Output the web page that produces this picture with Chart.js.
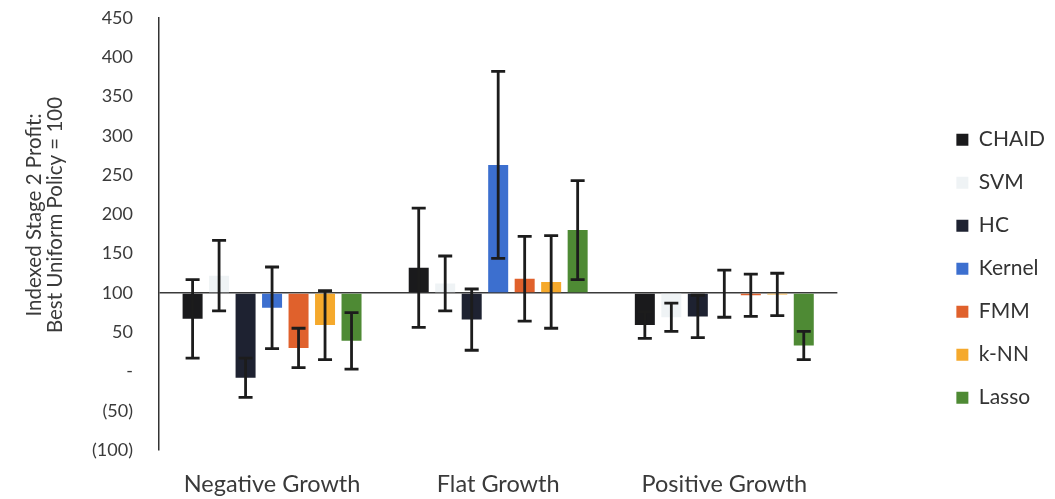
<!DOCTYPE html>
<html>
<head>
<meta charset="utf-8">
<script src="https://cdn.jsdelivr.net/npm/chart.js@4.4.0/dist/chart.umd.min.js"></script>
<style>
  html, body { margin: 0; padding: 0; background: #fff; }
  #contenedor { width: 1055px; height: 499px; }
</style>
</head>
<body>
<div id="contenedor"><canvas id="grafico"></canvas></div>
<script>
// Escenarios y métodos
const categorias = ['Negative Growth', 'Flat Growth', 'Positive Growth'];
const metodos = ['CHAID', 'SVM', 'HC', 'Kernel', 'FMM', 'k-NN', 'Lasso'];

// Beneficio indexado (100 = mejor política uniforme)
const chaid = [67, 132, 59];
const svm = [122, 112, 69];
const hc = [-8, 66, 70];
const kernel = [81, 263, 99];
const fmm = [30, 118, 97];
const knn = [59, 114, 98];
const lasso = [39, 180, 33];

// Semiamplitud de las barras de error
const errChaid = [50, 76, 17];
const errSvm = [45, 35, 18];
const errHc = [25, 39, 27];
const errKernel = [52, 119, 30];
const errFmm = [25, 54, 27];
const errKnn = [44, 59, 27];
const errLasso = [36, 63, 18];

const colores = ['#1a1a1c', '#eff3f5', '#1e2231', '#3c6fcf', '#e0612c', '#f5a92c', '#4e8a34'];

const ejeMin = -100;
const ejeMax = 450;
const ejePaso = 50;
const lineaBase = 100;
const tituloY = ['Indexed Stage 2 Profit:', 'Best Uniform Policy = 100'];

const fuente = 'Lato, "Liberation Sans", sans-serif';
const valores = [chaid, svm, hc, kernel, fmm, knn, lasso];
const errores = [errChaid, errSvm, errHc, errKernel, errFmm, errKnn, errLasso];

function etiquetaY(v) {
    if (v === 0) return '-';
    if (v < 0) return '(' + (-v) + ')';
    return String(v);
}

// barras de error dibujadas con la escala y
const barrasError = {
    id: 'barrasError',
    afterDatasetsDraw(chart) {
        const { ctx } = chart;
        const y = chart.scales.y;
        ctx.save();
        ctx.strokeStyle = '#1c1c1c';
        ctx.lineWidth = 2.8;
        chart.data.datasets.forEach((ds, i) => {
            const meta = chart.getDatasetMeta(i);
            if (!chart.isDatasetVisible(i)) return;
            meta.data.forEach((barra, j) => {
                const v = ds.data[j];
                const e = errores[i][j];
                const arriba = y.getPixelForValue(v + e);
                const abajo = y.getPixelForValue(v - e);
                ctx.beginPath();
                ctx.moveTo(barra.x, arriba);
                ctx.lineTo(barra.x, abajo);
                ctx.moveTo(barra.x - 7, arriba);
                ctx.lineTo(barra.x + 7, arriba);
                ctx.moveTo(barra.x - 7, abajo);
                ctx.lineTo(barra.x + 7, abajo);
                ctx.stroke();
            });
        });
        ctx.restore();
    }
};

// título del eje y en dos líneas
const tituloEje = {
    id: 'tituloEje',
    afterDraw(chart) {
        const { ctx } = chart;
        ctx.save();
        ctx.translate(45, 215);
        ctx.rotate(-Math.PI / 2);
        ctx.font = '20.5px ' + fuente;
        ctx.fillStyle = '#3a3a3a';
        ctx.textAlign = 'center';
        ctx.textBaseline = 'middle';
        ctx.fillText(tituloY[0], 0, -10.5);
        ctx.fillText(tituloY[1], 0, 10.5);
        ctx.restore();
    }
};

const chart = new Chart(document.getElementById('grafico'), {
    type: 'bar',
    data: {
        labels: categorias,
        datasets: metodos.map((m, i) => ({
            label: m,
            data: valores[i],
            base: lineaBase,
            backgroundColor: colores[i],
            borderWidth: 0,
            categoryPercentage: 0.82,
            barPercentage: 0.755
        }))
    },
    options: {
        responsive: true,
        maintainAspectRatio: false,
        animation: false,
        layout: { padding: 0 },
        scales: {
            x: {
                grid: { display: false },
                border: { display: false },
                ticks: { padding: 12, color: '#3a3a3a', font: { size: 23.5, family: fuente } },
                afterFit: s => { s.height = 49; }
            },
            y: {
                min: ejeMin,
                max: ejeMax,
                z: 1,
                ticks: {
                    stepSize: ejePaso,
                    padding: 26,
                    color: '#3a3a3a',
                    font: { size: 18, family: fuente },
                    callback: etiquetaY
                },
                grid: {
                    drawTicks: false,
                    lineWidth: 1.5,
                    color: c => c.tick && c.tick.value === lineaBase ? '#3a3a3a' : 'rgba(0,0,0,0)'
                },
                border: { display: true, color: '#333', width: 1.5 },
                afterFit: s => {
                    s.width = 159;
                    s.paddingTop = 18;
                    s.paddingBottom = 12;
                }
            },
            hueco: {
                position: 'right',
                display: true,
                grid: { display: false },
                border: { display: false },
                ticks: { display: false },
                afterFit: s => { s.width = 97; }
            }
        },
        plugins: {
            tooltip: { enabled: false },
            legend: {
                position: 'right',
                align: 'center',
                title: { display: true, text: ' ', padding: { top: 12, bottom: 12 }, font: { size: 12 } },
                labels: {
                    boxWidth: 12,
                    boxHeight: 12,
                    padding: 22,
                    color: '#333',
                    font: { size: 21, family: fuente }
                }
            }
        }
    },
    plugins: [barrasError, tituloEje]
});
</script>
</body>
</html>
